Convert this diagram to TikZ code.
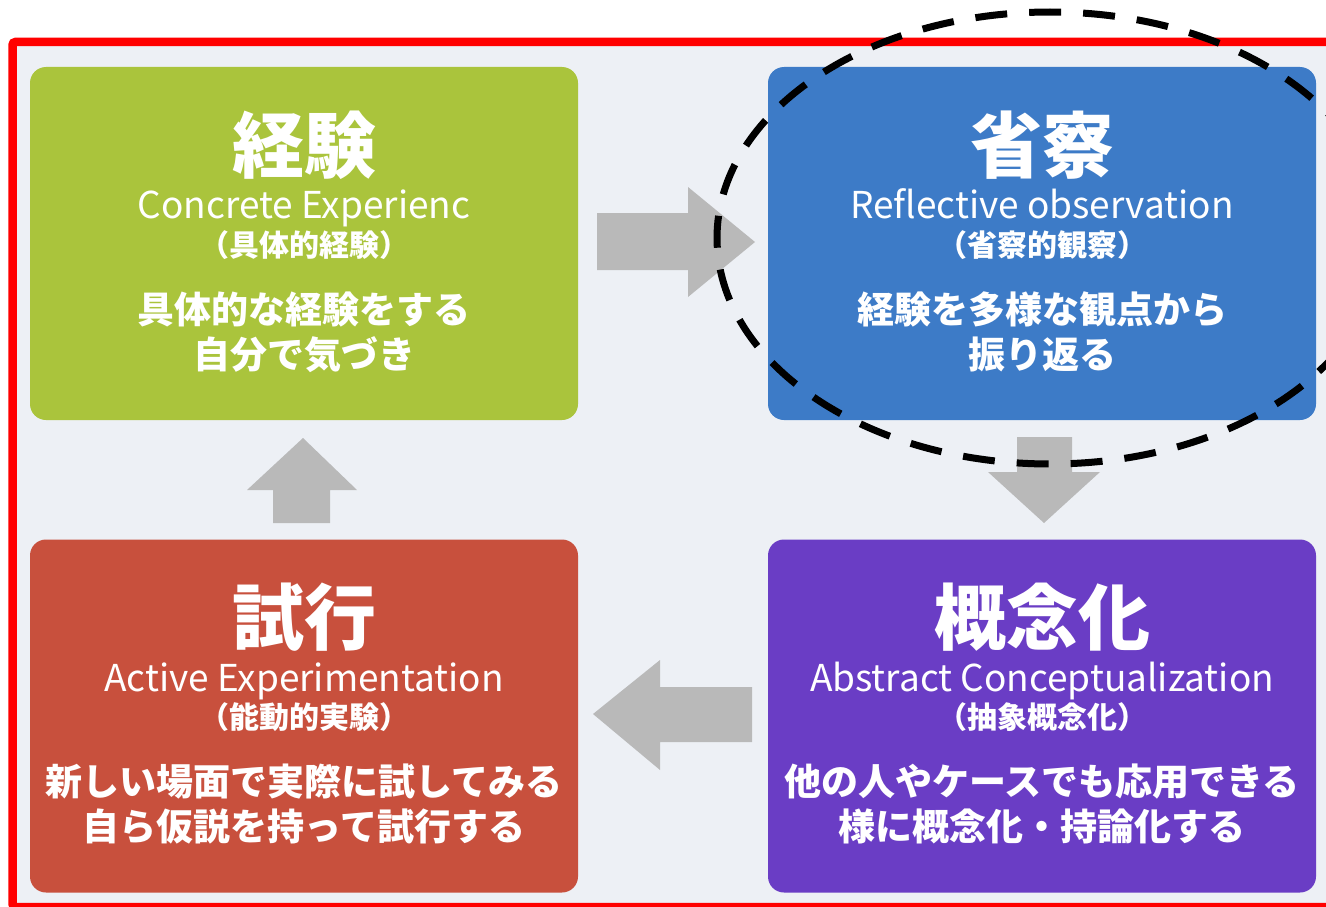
\documentclass[tikz,border=0pt]{standalone}
\usepackage{fontspec}
\newfontfamily\jp{Noto Sans CJK JP}
\definecolor{bgc}{HTML}{EDF0F5}
\definecolor{grn}{HTML}{AAC43C}
\definecolor{blu}{HTML}{3D7BC7}
\definecolor{rdd}{HTML}{C8503D}
\definecolor{prp}{HTML}{6A3DC5}
\definecolor{arr}{HTML}{B9B9B9}
\definecolor{frame}{HTML}{FF0000}
\tikzset{
  box/.style={rounded corners=16pt, minimum width=548pt, minimum height=353pt, inner sep=0pt},
  ttl/.style={anchor=base, text=white, font=\jp\bfseries\fontsize{72}{72}\selectfont, inner sep=0pt},
  eng/.style={anchor=base, text=white, font=\jp\fontsize{37}{37}\selectfont, inner sep=0pt},
  par/.style={anchor=base, text=white, font=\jp\bfseries\fontsize{30}{30}\selectfont, inner sep=0pt},
  bdy/.style={anchor=base, text=white, font=\jp\bfseries\fontsize{37}{37}\selectfont, inner sep=0pt},
  blockarrow/.style={fill=arr, draw=none},
  hilite/.style={draw=black, line width=7pt, dash pattern=on 32pt off 22pt}
}
\begin{document}
\begin{tikzpicture}[x=1pt,y=-1pt]
\useasboundingbox (0,0) rectangle (1326,907);
\clip (0,0) rectangle (1326,907);
\fill[white] (0,0) rectangle (1326,907);
\draw[frame, line width=8.5pt, fill=bgc, rounded corners=3pt] (12.5,42) rectangle (1345,907);

% boxes
\node[box, fill=grn] (exp) at (304,243.5) {};
\node[box, fill=blu] (ref) at (1042,243.5) {};
\node[box, fill=rdd] (act) at (304,716) {};
\node[box, fill=prp] (abs) at (1042,716) {};

% texts: experience
\node[ttl] (expT) at (304,172) {経験};
\node[eng] (expE) at (304,218) {Concrete Experienc};
\node[par] (expP) at (304,256) {（具体的経験）};
\node[bdy] (expB1) at (304,323) {具体的な経験をする};
\node[bdy] (expB2) at (304,368) {自分で気づき};

% reflective
\node[ttl] (refT) at (1042,172) {省察};
\node[eng] (refE) at (1042,218) {Reflective observation};
\node[par] (refP) at (1042,256) {（省察的観察）};
\node[bdy] (refB1) at (1042,323) {経験を多様な観点から};
\node[bdy] (refB2) at (1042,368) {振り返る};

% active
\node[ttl] (actT) at (304,644) {試行};
\node[eng] (actE) at (304,691) {Active Experimentation};
\node[par] (actP) at (304,728) {（能動的実験）};
\node[bdy] (actB1) at (304,795) {新しい場面で実際に試してみる};
\node[bdy] (actB2) at (304,840) {自ら仮説を持って試行する};

% abstract
\node[ttl] (absT) at (1042,644) {概念化};
\node[eng] (absE) at (1042,691) {Abstract Conceptualization};
\node[par] (absP) at (1042,728) {（抽象概念化）};
\node[bdy] (absB1) at (1042,795) {他の人やケースでも応用できる};
\node[bdy] (absB2) at (1042,840) {様に概念化・持論化する};

% block arrows
\fill[blockarrow] (597,213) -- (688,213) -- (688,187) -- (755,242) -- (688,297) -- (688,270) -- (597,270) -- cycle;
\fill[blockarrow] (1017,437) -- (1072,437) -- (1072,472) -- (1100,472) -- (1044,523) -- (988,472) -- (1017,472) -- cycle;
\fill[blockarrow] (752,687) -- (660,687) -- (660,660) -- (593,714) -- (660,770) -- (660,742) -- (752,742) -- cycle;
\fill[blockarrow] (273,523) -- (273,490) -- (247,490) -- (303,438) -- (357,490) -- (330,490) -- (330,523) -- cycle;

% highlight ellipse
\draw[hilite] (1050,238) ellipse [x radius=333pt, y radius=226pt];
\end{tikzpicture}
\end{document}
